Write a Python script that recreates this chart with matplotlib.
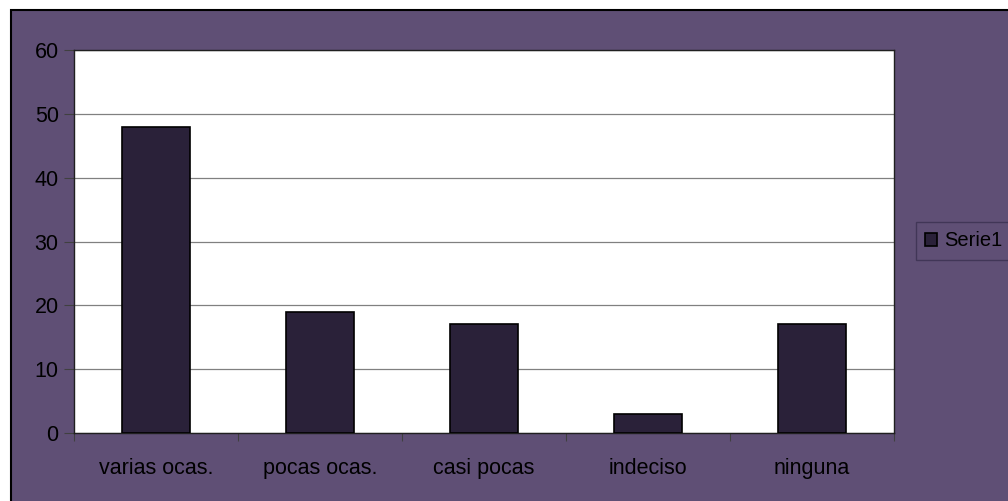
import matplotlib
matplotlib.use("Agg")
import matplotlib.pyplot as plt
from matplotlib.patches import Rectangle
import numpy as np

categories = ["varias ocas.", "pocas ocas.", "casi pocas", "indeciso", "ninguna"]
values = [48, 19, 17, 3, 17]
series_name = "Serie1"
yticks = [0, 10, 20, 30, 40, 50, 60]

bg = "#5f4f75"
bar_color = "#2a2139"

plt.rcParams['font.family'] = ['Liberation Sans', 'DejaVu Sans']

fig = plt.figure(figsize=(10.08, 5.01), dpi=100)
fig.patch.set_facecolor("white")
# outer chart area
fig.patches.append(Rectangle((10.5/1008, -0.1), 1.2, 1.1 - 10/501, transform=fig.transFigure,
                             facecolor=bg, edgecolor="black", linewidth=1.5, zorder=-5))

ax = fig.add_axes([74/1008, 1 - 433/501, (894-74)/1008, (433-50)/501])
ax.set_zorder(2)
ax.set_facecolor("white")
x = np.arange(len(categories))
ax.bar(x, values, width=0.41, color=bar_color, edgecolor="black", linewidth=1.2,
       zorder=3, label=series_name)
ax.set_xlim(-0.5, len(categories) - 0.5)
ax.set_ylim(0, 60)
ax.set_yticks(yticks)
ax.set_yticklabels([str(v) for v in yticks], fontsize=15.5, color="black")
ax.yaxis.grid(True, color="#808080", linewidth=0.9, zorder=0)
ax.set_axisbelow(True)
ax.set_xticks(np.arange(-0.5, len(categories), 1.0))
ax.set_xticklabels([])
ax.set_xticks(x, minor=True)
ax.set_xticklabels(categories, minor=True, fontsize=15.5)
ax.tick_params(axis='x', which='minor', length=0, pad=18)
ax.tick_params(axis='x', which='major', length=6, direction='out', color="#404040")
ax.tick_params(axis='y', length=7, direction='out', color="#404040", pad=4)
for s in ax.spines.values():
    s.set_color("#202020")
    s.set_linewidth(1.0)

leg = fig.legend(loc="center left", bbox_to_anchor=(916/1008, 1 - 241/501),
                 borderaxespad=0, fontsize=14.5, frameon=True, fancybox=False,
                 handlelength=0.6, handleheight=0.6, handletextpad=0.35, borderpad=0.45)
leg.set_zorder(3)
leg.get_frame().set_facecolor(bg)
leg.get_frame().set_edgecolor("#3a3050")
leg.get_frame().set_linewidth(1.0)

fig.savefig("out.png", dpi=100, facecolor=fig.get_facecolor())
